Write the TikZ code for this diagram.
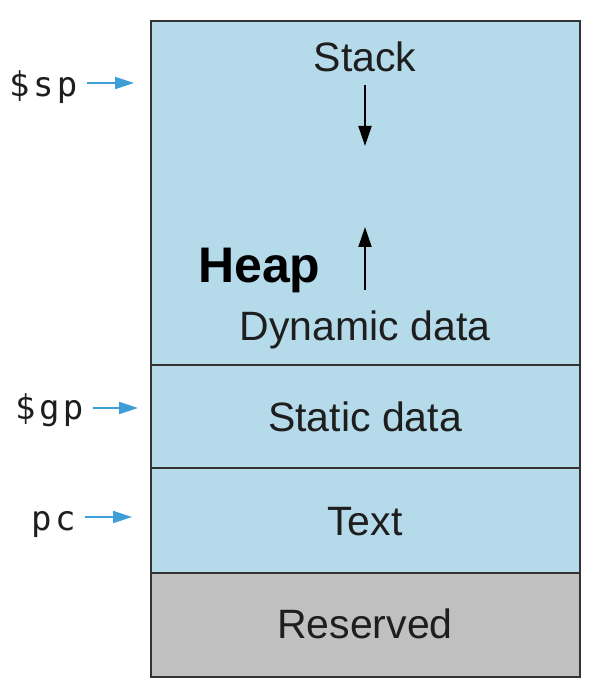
\documentclass[tikz,border=0pt]{standalone}
\usepackage{fontspec}
\setmainfont{Liberation Sans}
\newfontfamily\regfont[LetterSpace=10]{DejaVu Sans Mono}
\usetikzlibrary{arrows.meta}
\definecolor{memblue}{HTML}{B5DBEA}
\definecolor{memgray}{HTML}{C0C0C0}
\definecolor{edgegray}{HTML}{333333}
\definecolor{txt}{HTML}{1E1E1E}
\definecolor{ptrblue}{HTML}{3D9FD6}
\tikzset{
  region/.style={draw=edgegray, line width=2.2pt, fill=memblue, minimum width=429pt, inner sep=0pt, outer sep=0pt},
  lbl/.style={anchor=base, inner sep=0pt, text=txt, font=\fontsize{41}{41}\selectfont},
  reglbl/.style={anchor=base west, inner sep=0pt, text=txt, font=\regfont\fontsize{34}{34}\selectfont},
  ptr/.style={draw=ptrblue, line width=2.2pt, -{Triangle[length=19pt,width=12pt]}},
  growarrow/.style={draw=black, line width=2pt, -{Triangle[length=20pt,width=13pt]}}
}
\begin{document}
\begin{tikzpicture}[x=1pt,y=-1pt]
\useasboundingbox (0,0) rectangle (598,700);
\node[region, minimum height=344pt] (dyn) at (365.5,193) {};
\node[region, minimum height=103pt] (static) at (365.5,416.5) {};
\node[region, minimum height=105pt] (text) at (365.5,520.5) {};
\node[region, minimum height=104pt, fill=memgray] (res) at (365.5,625) {};
\node[lbl] (stack) at (365,72) {Stack};
\node[lbl, anchor=base west, font=\bfseries\fontsize{50}{50}\selectfont, text=black] (heap) at (198,282) {Heap};
\node[lbl] (dyndata) at (365,340) {Dynamic data};
\node[lbl] (statlbl) at (365,431) {Static data};
\node[lbl] (textlbl) at (365,535) {Text};
\node[lbl] (reslbl) at (365,638) {Reserved};
\coordinate (sdown0) at (365,85);
\coordinate (sdown1) at (365,146);
\coordinate (hup0) at (365,290);
\coordinate (hup1) at (365,227);
\draw[growarrow] (sdown0) -- (sdown1);
\draw[growarrow] (hup0) -- (hup1);
\node[reglbl] (sp) at (9,97) {\$sp};
\node[reglbl] (gp) at (15,419) {\$gp};
\node[reglbl] (pc) at (31,530) {pc};
\coordinate (spA) at (87,83);
\coordinate (spB) at (134,83);
\coordinate (gpA) at (93,408);
\coordinate (gpB) at (138,408);
\coordinate (pcA) at (85,517);
\coordinate (pcB) at (132,517);
\draw[ptr] (spA) -- (spB);
\draw[ptr] (gpA) -- (gpB);
\draw[ptr] (pcA) -- (pcB);
\end{tikzpicture}
\end{document}
